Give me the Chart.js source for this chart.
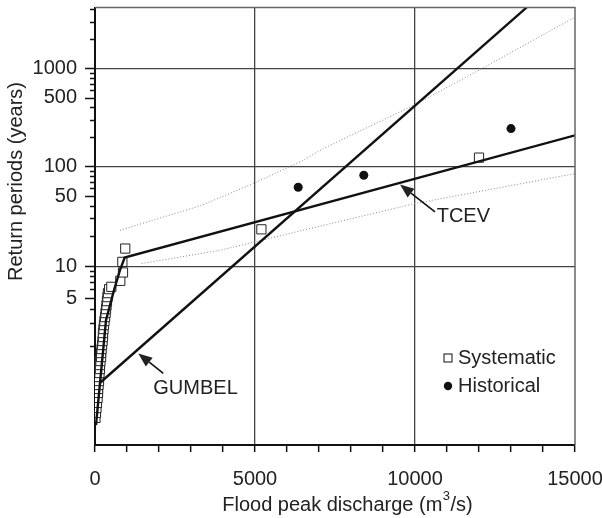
<!DOCTYPE html>
<html lang="en">
<head>
<meta charset="utf-8">
<title>Flood frequency curves</title>
<style>
  * { margin: 0; padding: 0; box-sizing: border-box; }
  body { background: #ffffff; width: 602px; height: 518px; overflow: hidden; }
</style>
</head>
<body>
<canvas id="chart" width="602" height="518"></canvas>
<script src="https://cdn.jsdelivr.net/npm/chart.js@4.4.1/dist/chart.umd.min.js"></script>
<script>
  // systematic record: discharge (m3/s) and return period (years)
  const sysQ = [15, 30, 45, 60, 80, 95, 95, 110, 125, 125, 140, 155, 155, 170, 190, 190, 205, 220, 235,
    250, 250, 265, 280, 295, 315, 330, 345, 360, 375, 390, 405, 440, 510, 790, 875, 855, 945, 5200, 12000];
  const sysT = [1.024, 1.037, 1.054, 1.077, 1.106, 1.142, 1.176, 1.216, 1.261, 1.313, 1.372, 1.439, 1.513,
    1.597, 1.69, 1.794, 1.908, 2.037, 2.178, 2.334, 2.506, 2.696, 2.905, 3.136, 3.389, 3.669, 3.976, 4.314,
    4.687, 5.095, 5.544, 6.04, 6.348, 7.233, 8.693, 11.01, 14.87, 23.1, 122.7];

  // historical floods
  const histQ = [6350, 8400, 13000];
  const histT = [61.3, 81.1, 242.6];

  // fitted distributions
  const gumbelQ = [150, 13490];
  const gumbelT = [1.238, 4195];
  const tcevQ = [31, 344, 594, 781, 928, 15000];
  const tcevT = [1.012, 3.196, 5.914, 9.15, 12.15, 207.2];

  // TCEV confidence limits
  const upperQ = [781, 3281, 4947, 6509, 7134, 10000, 12031, 15000];
  const upperT = [22.6, 39.7, 66.9, 115.3, 151.7, 425.9, 970.5, 3339];
  const lowerQ = [1459, 3906, 6719, 10000, 15000];
  const lowerT = [10.6, 14.3, 23.5, 42.0, 84.4];

  // return-period axis
  const tickT = [2, 3, 4, 5, 6, 7, 8, 9, 10, 20, 30, 40, 50, 60, 70, 80, 90, 100,
    200, 300, 400, 500, 600, 700, 800, 900, 1000, 2000, 3000, 4000];
  const labelT = [5, 10, 50, 100, 500, 1000];
  const gridT = [10, 100, 1000];

  // Gumbel reduced variate
  function gumbel(T) {
    return -Math.log(-Math.log(1 - 1 / T));
  }

  function toPoints(qs, ts) {
    return qs.map((q, i) => ({ x: q, y: gumbel(ts[i]) }));
  }

  const FONT = '"Liberation Sans", Arial, Helvetica, sans-serif';
  Chart.defaults.font.family = FONT;
  Chart.defaults.font.size = 20;
  Chart.defaults.color = '#222';

  function arrow(ctx, x1, y1, x2, y2) {
    const a = Math.atan2(y2 - y1, x2 - x1);
    const len = 14, half = 5.5;
    const bx = x2 - len * Math.cos(a), by = y2 - len * Math.sin(a);
    ctx.beginPath();
    ctx.moveTo(x1, y1);
    ctx.lineTo(bx, by);
    ctx.stroke();
    ctx.beginPath();
    ctx.moveTo(x2, y2);
    ctx.lineTo(bx + half * Math.sin(a), by - half * Math.cos(a));
    ctx.lineTo(bx - half * Math.sin(a), by + half * Math.cos(a));
    ctx.closePath();
    ctx.fill();
  }

  const extras = {
    id: 'extras',
    afterDraw(chart) {
      const ctx = chart.ctx;
      const { left, right, top, bottom } = chart.chartArea;
      const xs = chart.scales.x, ys = chart.scales.y;
      ctx.save();

      // frame top and right
      ctx.strokeStyle = '#666';
      ctx.lineWidth = 1.5;
      ctx.beginPath();
      ctx.moveTo(left, top);
      ctx.lineTo(right, top);
      ctx.lineTo(right, bottom);
      ctx.stroke();

      // y tick marks, long on labelled values
      ctx.strokeStyle = '#111';
      ctx.lineWidth = 1.5;
      tickT.forEach(t => {
        const y = Math.round(ys.getPixelForValue(gumbel(t))) + 0.5;
        const len = labelT.includes(t) ? 10 : 5;
        ctx.beginPath();
        ctx.moveTo(left - len, y);
        ctx.lineTo(left, y);
        ctx.stroke();
      });

      ctx.fillStyle = '#222';
      ctx.textBaseline = 'middle';
      ctx.font = '20px ' + FONT;

      // axis titles (x title has a raised 3)
      const t1 = 'Flood peak discharge (m', t2 = '3', t3 = '/s)';
      const w1 = ctx.measureText(t1).width, w3 = ctx.measureText(t3).width;
      ctx.font = '13px ' + FONT;
      const w2 = ctx.measureText(t2).width;
      let x0 = (left + right) / 2 + 12 - (w1 + w2 + w3) / 2;
      const yt = bottom + 60;
      ctx.textAlign = 'left';
      ctx.font = '20px ' + FONT;
      ctx.fillText(t1, x0, yt);
      ctx.font = '13px ' + FONT;
      ctx.fillText(t2, x0 + w1 + 0.5, yt - 9);
      ctx.font = '20px ' + FONT;
      ctx.fillText(t3, x0 + w1 + w2 + 1, yt);

      ctx.save();
      ctx.translate(16, top + 174);
      ctx.rotate(-Math.PI / 2);
      ctx.textAlign = 'center';
      ctx.fillText('Return periods (years)', 0, 0);
      ctx.restore();

      // curve labels
      ctx.strokeStyle = '#111';
      ctx.lineWidth = 1.6;
      ctx.textAlign = 'left';
      const px = (q, t) => [xs.getPixelForValue(q), ys.getPixelForValue(gumbel(t))];
      let [tx, ty] = px(2134, 1.3676), [hx, hy] = px(1353, 1.785);
      arrow(ctx, tx, ty, hx, hy);
      let [lx, ly] = px(1822, 1.185);
      ctx.fillText('GUMBEL', lx, ly);
      [tx, ty] = px(10625, 34.5);
      [hx, hy] = px(9531, 65.3);
      arrow(ctx, tx, ty, hx, hy);
      [lx, ly] = px(10678, 30.8);
      ctx.fillText('TCEV', lx, ly);

      // legend
      const mx = right - 127;
      const y1 = bottom - 87, y2 = bottom - 59;
      ctx.fillStyle = '#fff';
      ctx.strokeStyle = '#111';
      ctx.lineWidth = 1;
      ctx.fillRect(mx - 4, y1 - 4, 8, 8);
      ctx.strokeRect(mx - 4, y1 - 4, 8, 8);
      ctx.fillStyle = '#111';
      ctx.beginPath();
      ctx.arc(mx, y2, 4.2, 0, Math.PI * 2);
      ctx.fill();
      ctx.fillStyle = '#222';
      ctx.fillText('Systematic', mx + 10, y1);
      ctx.fillText('Historical', mx + 10, y2);
      ctx.restore();
    }
  };

  new Chart(document.getElementById('chart'), {
    type: 'scatter',
    plugins: [extras],
    data: {
      datasets: [
        {
          label: 'GUMBEL',
          data: toPoints(gumbelQ, gumbelT),
          showLine: true,
          borderColor: '#111',
          borderWidth: 2.4,
          pointRadius: 0
        },
        {
          label: 'TCEV',
          data: toPoints(tcevQ, tcevT),
          showLine: true,
          borderColor: '#111',
          borderWidth: 2.4,
          pointRadius: 0
        },
        {
          label: 'Upper limit',
          data: toPoints(upperQ, upperT),
          showLine: true,
          borderColor: '#888',
          borderWidth: 1,
          borderDash: [1, 2],
          pointRadius: 0
        },
        {
          label: 'Lower limit',
          data: toPoints(lowerQ, lowerT),
          showLine: true,
          borderColor: '#888',
          borderWidth: 1,
          borderDash: [1, 2],
          pointRadius: 0
        },
        {
          label: 'Historical',
          data: toPoints(histQ, histT),
          pointStyle: 'circle',
          pointRadius: 4.5,
          backgroundColor: '#111',
          borderColor: '#111',
          borderWidth: 0
        },
        {
          label: 'Systematic',
          data: toPoints(sysQ, sysT),
          pointStyle: 'rect',
          pointRadius: 6.5,
          backgroundColor: '#fff',
          borderColor: '#222',
          borderWidth: 1
        }
      ]
    },
    options: {
      responsive: false,
      animation: false,
      devicePixelRatio: 1,
      layout: { padding: { top: 7, right: 27, left: 0, bottom: 0 } },
      plugins: { legend: { display: false }, tooltip: { enabled: false } },
      scales: {
        x: {
          type: 'linear',
          min: 0,
          max: 15000,
          afterFit: s => { s.height = 73; s.paddingLeft = 0; s.paddingRight = 0; },
          border: { color: '#111', width: 2 },
          grid: {
            color: c => (c.tick && (c.tick.value === 5000 || c.tick.value === 10000)) ? '#444' : 'rgba(0,0,0,0)',
            lineWidth: 1.3,
            drawTicks: true,
            tickLength: 7,
            tickColor: '#111',
            tickWidth: 1.5
          },
          ticks: {
            stepSize: 1000,
            padding: 15,
            maxRotation: 0,
            autoSkip: false,
            color: '#222',
            callback: v => (v % 5000 === 0 ? String(v) : '')
          },
          title: { display: false }
        },
        y: {
          type: 'linear',
          position: 'left',
          min: -1.96,
          max: 8.34,
          afterFit: s => { s.width = 95; s.paddingTop = 0; s.paddingBottom = 0; },
          afterBuildTicks: s => { s.ticks = tickT.map(t => ({ value: gumbel(t) })); },
          border: { color: '#111', width: 2 },
          grid: {
            color: c => gridT.includes(tickT[c.index]) ? '#444' : 'rgba(0,0,0,0)',
            lineWidth: 1.3,
            drawTicks: false
          },
          ticks: {
            padding: 18,
            autoSkip: false,
            color: '#222',
            callback: (v, i) => (labelT.includes(tickT[i]) ? String(tickT[i]) : '')
          },
          title: { display: false }
        }
      }
    }
  });
</script>
</body>
</html>
